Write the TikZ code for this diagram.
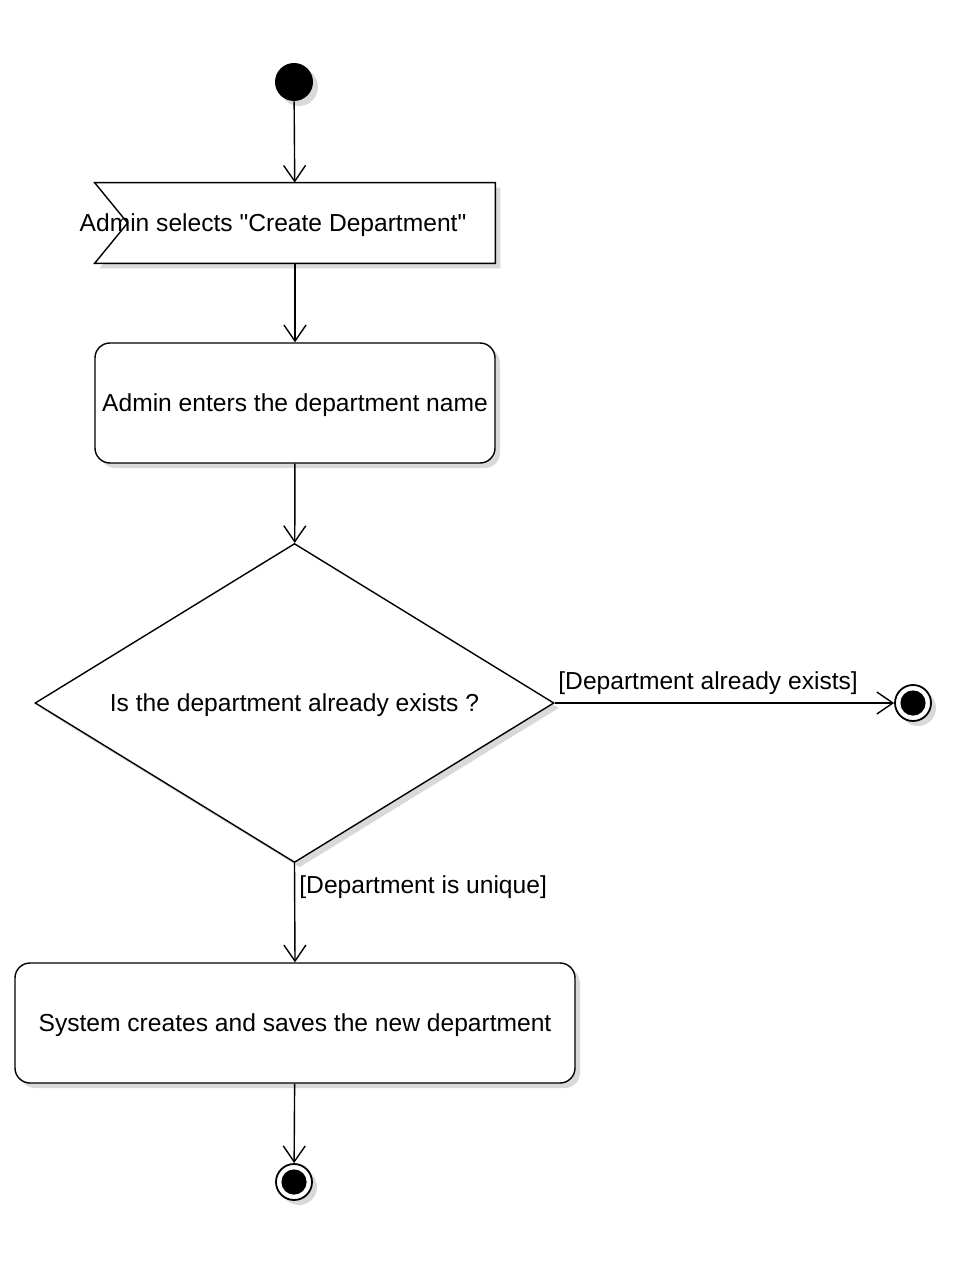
\documentclass[tikz,border=0pt]{standalone}
\usepackage{fontspec}
\setmainfont{Liberation Sans}[Ligatures=TeXOff]
\usetikzlibrary{arrows.meta,shapes.geometric,shadows,positioning}

\begin{document}
\begin{tikzpicture}[x=0.5pt,y=-0.5pt]
  \tikzset{shade/.style = {drop shadow={shadow xshift=2.5pt,shadow yshift=-2.5pt,opacity=0.25,fill=black!60}}}
  \tikzset{action/.style = {shape=rectangle,draw,rounded corners=7.5pt,minimum height=60pt,inner sep=0pt,fill=white,shade,line width=0.7pt}}
  \tikzset{decision/.style = {shape=diamond,draw,aspect=1.627,minimum width=259.5pt,minimum height=159.5pt,inner sep=0pt,fill=white,shade,line width=0.7pt}}
  \tikzset{initial/.style = {shape=circle,fill=black,minimum size=19pt,inner sep=0pt,shade}}
  \tikzset{final/.style = {shape=circle,draw,line width=0.9pt,fill=white,minimum size=18pt,inner sep=0pt,shade,
      path picture={\fill[black] (path picture bounding box.center) circle (6.3pt);}}}
  \tikzset{guard/.style = {anchor=west,inner sep=0pt}}
  \tikzset{edge/.style = {-{Straight Barb[length=8pt,width=11pt]},line width=0.7pt}}
  \tikzset{every node/.style={font=\fontsize{12.3}{15}\selectfont,text height=11pt,text depth=2.5pt}}
  \useasboundingbox (0,0) rectangle (960,1278);

	\node[initial] (start) at (294,82) {};
	\node[minimum width=200pt,minimum height=40pt,inner sep=0pt] (select) at (295,223) {};
	\draw[fill=white,shade,line width=0.7pt] (select.north west) -- (select.north east) -- (select.south east)
	   -- (select.south west) -- ([xshift=16.5pt]select.west) -- cycle;
	\node[inner sep=0pt] (selectText) at (273,223) {Admin selects "Create Department"};
	\node[action,minimum width=200pt] (enter) at (295,403) {Admin enters the department name};
	\node[decision] (check) at (294.5,703) {Is the department already exists ?};
	\node[final] (stopA) at (913,703) {};
	\node[action,minimum width=280pt] (save) at (295,1023) {System creates and saves the new department};
	\node[final] (stopB) at (294,1182) {};

    \foreach \from/\to in {start/select, select/enter, enter/check, save/stopB}
    \draw[edge] (\from) -- (\to);

    \draw[edge] (check.east) -- (stopA.west);
    \draw[edge] (check.south) -- (save.north);

	\node[guard] (existsLabel) at (558,681) {[Department already exists]};
	\node[guard] (uniqueLabel) at (299,885) {[Department is unique]};

\end{tikzpicture}
\end{document}
